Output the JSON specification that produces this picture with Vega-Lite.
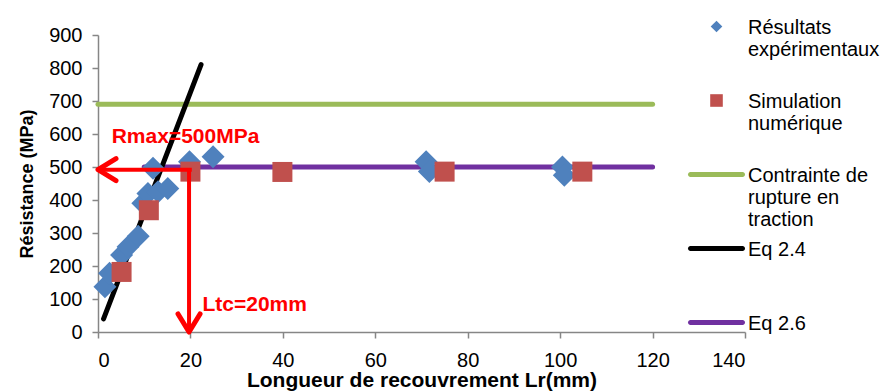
{
  "$schema": "https://vega.github.io/schema/vega-lite/v6.json",
  "width": 647,
  "height": 297,
  "autosize": {"type": "none"},
  "padding": {"left": 98, "top": 35, "right": 147, "bottom": 60},
  "background": "white",
  "config": {
    "view": {"stroke": null},
    "font": "Liberation Sans",
    "axis": {
      "grid": false,
      "domainColor": "#868686",
      "tickColor": "#868686",
      "domainWidth": 1.5,
      "tickWidth": 1.5,
      "tickSize": 6,
      "labelFont": "Liberation Sans",
      "labelFontSize": 20,
      "labelColor": "#000000",
      "titleFont": "Liberation Sans",
      "titleFontWeight": "bold",
      "titleColor": "#000000"
    }
  },
  "datasets": {
    "contrainte": [{"x": 0, "y": 690}, {"x": 120, "y": 690}],
    "eq26": [{"x": 10, "y": 500}, {"x": 120, "y": 500}],
    "eq24": [{"x": 1.2, "y": 40}, {"x": 22.3, "y": 810}],
    "experimental": [
      {"x": 1.5, "y": 137}, {"x": 2.5, "y": 178}, {"x": 5.1, "y": 233}, {"x": 6.5, "y": 258},
      {"x": 8.7, "y": 290}, {"x": 9.7, "y": 390}, {"x": 10.8, "y": 420}, {"x": 11.9, "y": 496},
      {"x": 13.0, "y": 425}, {"x": 15.1, "y": 435}, {"x": 19.8, "y": 516}, {"x": 24.9, "y": 531},
      {"x": 71.0, "y": 516}, {"x": 71.7, "y": 486}, {"x": 100.5, "y": 500}, {"x": 100.9, "y": 475}
    ],
    "simulation": [
      {"x": 5.1, "y": 182}, {"x": 11.0, "y": 369}, {"x": 20.0, "y": 486},
      {"x": 39.9, "y": 485}, {"x": 75.0, "y": 486}, {"x": 104.8, "y": 486}
    ],
    "arrows": [
      {"x": 0.4, "x2": 20.3, "y": 492, "y2": 492},
      {"x": 19.7, "x2": 19.7, "y": 492, "y2": 0.8}
    ],
    "leftHead": [{"x": 0, "y": 492}],
    "downHead": [{"x": 19.7, "y": 0}],
    "annotations": [
      {"x": 2.96, "y": 591, "text": "Rmax=500MPa"},
      {"x": 22.6, "y": 81, "text": "Ltc=20mm"}
    ]
  },
  "encoding": {
    "x": {
      "field": "x", "type": "quantitative",
      "scale": {"domain": [0, 140], "nice": false},
      "axis": {"values": [0, 20, 40, 60, 80, 100, 120, 140], "title": "Longueur de recouvrement Lr(mm)", "titleFontSize": 21, "labelPadding": 12, "titlePadding": -1}
    },
    "y": {
      "field": "y", "type": "quantitative",
      "scale": {"domain": [0, 900], "nice": false},
      "axis": {"values": [0, 100, 200, 300, 400, 500, 600, 700, 800, 900], "title": "Résistance (MPa)", "titleFontSize": 18, "labelPadding": 10, "titlePadding": 12}
    }
  },
  "layer": [
    {"data": {"name": "contrainte"}, "mark": {"type": "line", "color": "#9BBB59", "strokeWidth": 5, "strokeCap": "round"}},
    {"data": {"name": "eq26"}, "mark": {"type": "line", "color": "#7030A0", "strokeWidth": 5, "strokeCap": "round"}},
    {"data": {"name": "eq24"}, "mark": {"type": "line", "color": "#000000", "strokeWidth": 5, "strokeCap": "round"}},
    {"data": {"name": "experimental"}, "mark": {"type": "point", "shape": "diamond", "filled": true, "size": 529, "color": "#4F81BD", "opacity": 1, "strokeWidth": 0}},
    {"data": {"name": "simulation"}, "mark": {"type": "point", "shape": "square", "filled": true, "size": 400, "color": "#C0504D", "opacity": 1, "strokeWidth": 0}},
    {"data": {"name": "arrows"}, "mark": {"type": "rule", "color": "#FF0000", "strokeWidth": 4},
     "encoding": {"x2": {"field": "x2"}, "y2": {"field": "y2"}}},
    {"data": {"name": "leftHead"}, "mark": {"type": "point", "shape": "M0.9,-0.55L0,0L0.9,0.55", "filled": false, "size": 1600, "stroke": "#FF0000", "strokeWidth": 5, "strokeCap": "round", "strokeJoin": "round", "opacity": 1}},
    {"data": {"name": "downHead"}, "mark": {"type": "point", "shape": "M-0.55,-0.9L0,0L0.55,-0.9", "filled": false, "size": 1600, "stroke": "#FF0000", "strokeWidth": 5, "strokeCap": "round", "strokeJoin": "round", "opacity": 1}},
    {"data": {"name": "annotations"}, "mark": {"type": "text", "align": "left", "baseline": "middle", "font": "Liberation Sans", "fontSize": 21, "fontWeight": "bold", "color": "#FF0000"},
     "encoding": {"text": {"field": "text"}}},
    {
      "data": {"values": []},
      "mark": {"type": "point", "filled": true, "opacity": 1, "strokeWidth": 0},
      "encoding": {
        "color": {
          "field": "series", "type": "nominal",
          "scale": {
            "domain": ["Résultats expérimentaux", "Simulation numérique", "Contrainte de rupture en traction", "Eq 2.4", "Eq 2.6"],
            "range": ["#4F81BD", "#C0504D", "#9BBB59", "#000000", "#7030A0"]
          },
          "legend": {
            "title": null, "orient": "none", "legendX": 580, "legendY": -27,
            "symbolSize": 1, "symbolOffset": 0, "symbolStrokeWidth": 0,
            "labelFont": "Liberation Sans", "labelFontSize": 20, "labelColor": "#000000",
            "labelBaseline": "top", "labelLineHeight": 24, "labelOffset": 50, "labelLimit": 300,
            "rowPadding": -3, "padding": 0,
            "labelExpr": "datum.label === 'Résultats expérimentaux' ? ['Résultats', 'expérimentaux', ''] : datum.label === 'Simulation numérique' ? ['Simulation', 'numérique', ''] : datum.label === 'Contrainte de rupture en traction' ? ['Contrainte de', 'rupture en', 'traction'] : [datum.label, '', '']"
          }
        },
        "shape": {
          "field": "series", "type": "nominal",
          "scale": {
            "domain": ["Résultats expérimentaux", "Simulation numérique", "Contrainte de rupture en traction", "Eq 2.4", "Eq 2.6"],
            "range": [
              "M57,5.4L68.6,17L57,28.6L45.4,17Z",
              "M44.4,4.4H69.6V29.6H44.4Z",
              "M5,12H109A5,5 0 0 1 109,22H5A5,5 0 0 1 5,12Z",
              "M5,12H109A5,5 0 0 1 109,22H5A5,5 0 0 1 5,12Z",
              "M5,12H109A5,5 0 0 1 109,22H5A5,5 0 0 1 5,12Z"
            ]
          },
          "legend": {
            "title": null, "orient": "none", "legendX": 580, "legendY": -27,
            "symbolSize": 1, "symbolOffset": 0, "symbolStrokeWidth": 0,
            "labelFont": "Liberation Sans", "labelFontSize": 20, "labelColor": "#000000",
            "labelBaseline": "top", "labelLineHeight": 24, "labelOffset": 50, "labelLimit": 300,
            "rowPadding": -3, "padding": 0,
            "labelExpr": "datum.label === 'Résultats expérimentaux' ? ['Résultats', 'expérimentaux', ''] : datum.label === 'Simulation numérique' ? ['Simulation', 'numérique', ''] : datum.label === 'Contrainte de rupture en traction' ? ['Contrainte de', 'rupture en', 'traction'] : [datum.label, '', '']"
          }
        }
      }
    }
  ]
}
